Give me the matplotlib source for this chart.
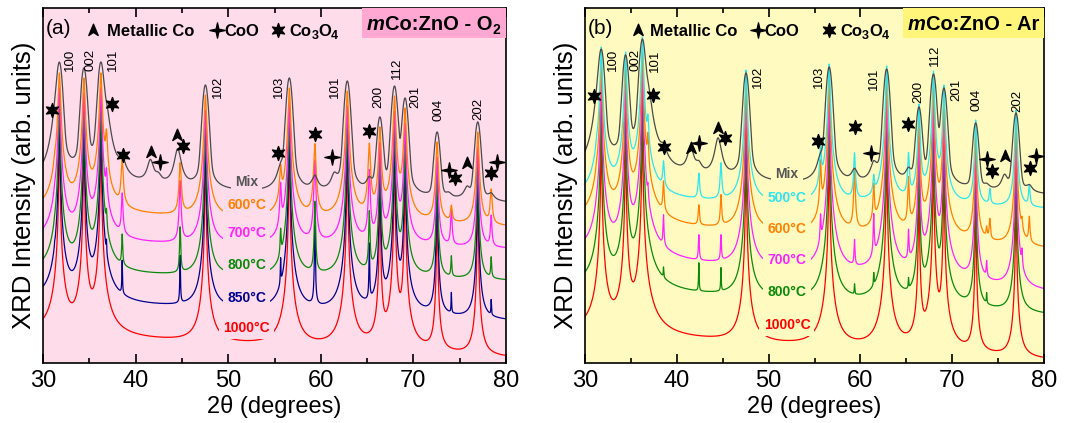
import numpy as np
import matplotlib
matplotlib.use("Agg")
import matplotlib.pyplot as plt
from matplotlib.path import Path
from matplotlib.patches import Rectangle

plt.rcParams['font.family'] = ['Liberation Sans', 'DejaVu Sans']

# ---------------- data ----------------
zno_pos = [31.77, 34.42, 36.25, 47.54, 56.60, 62.86, 66.38, 67.96, 69.10, 72.56, 76.95]
zno_hkl = ["100", "002", "101", "102", "103", "101", "200", "112", "201", "004", "202"]

# panel (a): O2
a_series = ["Mix", "600°C", "700°C", "800°C", "850°C", "1000°C"]
a_colors = ["#4a4a4a", "#ff8000", "#ff22ff", "#0a8a0a", "#000090", "#ff0000"]
a_base_30 = [178, 149, 119, 88, 60, 27]
a_base_80 = [160, 136, 114, 82, 42, 5]
a_width = [0.28, 0.096, 0.073, 0.049, 0.029, 0.028]
a_eta = [0.15, 1.0, 1.0, 1.0, 1.0, 1.0]
a_mix_tops = [300, 295, 300, 278, 285, 282, 246, 277, 265, 231, 241]
a_top_drop = [0, 10, 25, 35, 35, 65]
a_imp_pos = [31.27, 36.85, 38.55, 41.6, 42.45, 44.55, 44.81, 55.66, 59.36, 61.45, 65.24, 73.8, 74.1, 75.8, 78.4]
a_imp_rise = [
    [15, 30, 18, 25, 8, 38, 0, 12, 14, 12, 10, 4, 0, 10, 6],
    [5, 35, 45, 0, 0, 0, 50, 30, 70, 0, 65, 0, 15, 0, 33],
    [4, 25, 40, 0, 0, 0, 60, 40, 80, 0, 65, 0, 35, 0, 30],
    [3, 15, 30, 0, 0, 0, 45, 25, 70, 0, 55, 0, 20, 0, 20],
    [3, 12, 33, 0, 0, 0, 47, 25, 84, 0, 55, 0, 20, 0, 15],
    [0, 0, 0, 0, 0, 0, 0, 0, 0, 0, 0, 0, 0, 0, 0],
]
a_label_y = [181, 158, 130, 98, 65, 35]
a_hkl_x = [32.95, 35.1, 37.6, 48.9, 55.5, 61.55, 66.2, 68.2, 70.2, 72.7, 77.0]
a_hkl_y = [303, 303, 303, 276, 276, 276, 266, 295, 266, 253, 254]
a_co3o4_x = [31.0, 37.4, 38.6, 45.1, 55.4, 59.4, 65.2, 74.5, 78.35]
a_co3o4_y = [253, 259, 208, 217, 210, 229, 232, 185, 190]
a_co_x = [41.65, 44.46, 75.8]
a_co_y = [211, 228, 200]
a_coo_x = [42.65, 61.2, 73.85, 79.0]
a_coo_y = [201, 206, 193, 201]

# panel (b): Ar
b_series = ["Mix", "500°C", "600°C", "700°C", "800°C", "1000°C"]
b_colors = ["#4a4a4a", "#2ee6ee", "#ff8000", "#ff22ff", "#0a8a0a", "#ff0000"]
b_base_30 = [186, 162, 139, 106, 73, 28]
b_base_80 = [168, 154, 114, 71, 48, 3]
b_width = [0.28, 0.08, 0.066, 0.047, 0.03, 0.023]
b_eta = [0.15, 1.0, 1.0, 1.0, 1.0, 1.0]
b_mix_tops = [313, 308, 323, 290, 296, 294, 256, 289, 275, 240, 250]
b_top_drop = [0, -3, 10, 25, 35, 65]
b_imp_pos = [31.27, 36.5, 36.85, 38.55, 41.5, 42.4, 44.5, 44.81, 55.66, 59.36, 61.45, 65.24, 73.75, 74.1, 75.7, 77.6, 78.4]
b_imp_rise = [
    [15, 0, 30, 15, 28, 10, 40, 0, 12, 12, 14, 10, 4, 0, 14, 0, 6],
    [5, 0, 25, 25, 0, 25, 0, 35, 35, 45, 16, 40, 0, 15, 0, 0, 20],
    [4, 0, 30, 30, 0, 20, 0, 30, 45, 60, 35, 45, 10, 20, 0, 10, 25],
    [3, 8, 12, 30, 0, 25, 0, 25, 25, 25, 40, 28, 15, 0, 0, 15, 0],
    [0, 8, 0, 10, 0, 28, 0, 23, 0, 10, 12, 10, 10, 0, 0, 0, 0],
    [0, 0, 0, 0, 0, 0, 0, 0, 0, 0, 0, 0, 0, 0, 0, 0, 0],
]
b_label_y = [189, 165, 134, 103, 71, 38]
b_hkl_x = [33.0, 35.45, 37.6, 48.85, 55.5, 61.5, 66.3, 68.1, 70.4, 72.7, 77.1]
b_hkl_y = [303, 303, 302, 286, 286, 284, 271, 308, 273, 263, 262]
b_co3o4_x = [31.0, 37.4, 38.6, 45.3, 55.35, 59.4, 65.2, 74.35, 78.5]
b_co3o4_y = [267, 268, 216, 225, 222, 236, 239, 192, 195]
b_co_x = [41.5, 44.45, 75.7]
b_co_y = [215, 235, 207]
b_coo_x = [42.45, 61.15, 73.75, 79.1]
b_coo_y = [220, 210, 204, 207]

S_DECADE = 60.0  # display units per decade (log intensity)
x = np.linspace(30, 80, 10001)


def shape(xx, p, w, eta):
    d2 = (np.asarray(xx) - p) ** 2
    return eta * w * w / (d2 + w * w) + (1 - eta) * np.exp(-np.log(2) * d2 / (w * w))


def make_curve(b30, b80, w, eta, tops, imp_pos, imp_rise, imp_w):
    def base(xx):
        return b30 + (b80 - b30) * (np.asarray(xx) - 30.0) / 50.0
    P = np.array(zno_pos)
    T = np.array(tops, dtype=float)
    target = 10 ** ((T - base(P)) / S_DECADE) - 1
    M = shape(P[:, None], P[None, :], w, eta)
    A = np.clip(np.linalg.solve(M, target), 0, None)
    inten = np.ones_like(x)
    for p, a in zip(P, A):
        inten += a * shape(x, p, w, eta)
    for p, r in zip(imp_pos, imp_rise):
        if r <= 0:
            continue
        loc = 1 + sum(a * shape(p, pp, w, eta) for pp, a in zip(P, A))
        inten += loc * (10 ** (r / S_DECADE) - 1) * shape(x, p, imp_w, 1.0)
    return base(x) + S_DECADE * np.log10(inten)


def star_path(n, inner):
    ang = np.pi / 2 + np.arange(2 * n) * np.pi / n
    rad = np.where(np.arange(2 * n) % 2 == 0, 1.0, inner)
    verts = list(zip(rad * np.cos(ang), rad * np.sin(ang)))
    verts.append(verts[0])
    codes = [Path.MOVETO] + [Path.LINETO] * (2 * n - 1) + [Path.CLOSEPOLY]
    return Path(verts, codes)


co_marker = Path([(0, 1), (0.75, -0.8), (0, -0.3), (-0.75, -0.8), (0, 1)],
                 [Path.MOVETO, Path.LINETO, Path.LINETO, Path.LINETO, Path.CLOSEPOLY])
coo_marker = star_path(4, 0.25)
co3o4_marker = star_path(6, 0.45)


def chain(ax, xx, yy, parts, transform):
    prev = None
    for (s, fs, wt, st, dy) in parts:
        if prev is None:
            prev = ax.text(xx, yy, s, transform=transform, fontsize=fs, weight=wt,
                           style=st, ha='left', va='baseline', zorder=6)
        else:
            prev = ax.annotate(s, xy=(1, 0), xycoords=prev, xytext=(0, dy),
                               textcoords='offset points', fontsize=fs, weight=wt,
                               style=st, ha='left', va='bottom', zorder=6)
    return prev


fig = plt.figure(figsize=(10.85, 4.23), dpi=100)
axA = fig.add_axes([43 / 1085, 60 / 423, 463 / 1085, 355 / 423])
axB = fig.add_axes([585 / 1085, 60 / 423, 459 / 1085, 355 / 423])

panels = [
    (axA, "(a)", a_series, a_colors, a_base_30, a_base_80, a_width, a_eta, a_mix_tops, a_top_drop,
     a_imp_pos, a_imp_rise, a_label_y, a_hkl_x, a_hkl_y,
     a_co3o4_x, a_co3o4_y, a_co_x, a_co_y, a_coo_x, a_coo_y,
     "#ffdcea", "#ffa8d4", "O", "2", (35.4, 36.9, 48.8, 49.6, 55.4, 56.6), 0.700),
    (axB, "(b)", b_series, b_colors, b_base_30, b_base_80, b_width, b_eta, b_mix_tops, b_top_drop,
     b_imp_pos, b_imp_rise, b_label_y, b_hkl_x, b_hkl_y,
     b_co3o4_x, b_co3o4_y, b_co_x, b_co_y, b_coo_x, b_coo_y,
     "#fffbc0", "#fff57a", "Ar", "", (35.8, 37.1, 48.8, 49.5, 56.6, 57.8), 0.704),
]

for (ax, tag, names, cols, b30s, b80s, widths, etas, mixtops, drops, ipos, irises, laby,
     hx, hy, c3x, c3y, cx, cy, cox, coy, bg, boxc, gas, gsub, legx, tx0) in panels:
    ax.set_facecolor(bg)
    n = len(names)
    for i in reversed(range(n)):
        tops = [t - drops[i] for t in mixtops]
        imp_w = 0.35 if i == 0 else widths[i]
        y = make_curve(b30s[i], b80s[i], widths[i], etas[i], tops, ipos, irises[i], imp_w)
        ax.plot(x, y, color=cols[i], lw=0.9, zorder=2 + (n - i) * 0.01)
    for i in range(n):
        tc = "#555555" if i == 0 else cols[i]
        ax.text(52.0, laby[i], names[i], color=tc, fontsize=10, weight='bold',
                ha='center', va='center', zorder=4,
                bbox=dict(boxstyle='square,pad=0.3', fc=bg, ec='none'))
    for hxx, hyy, lab in zip(hx, hy, zno_hkl):
        ax.text(hxx, hyy, lab, rotation=90, fontsize=9.5, ha='center', va='center', zorder=5)
    ax.plot(c3x, c3y, ls='none', marker=co3o4_marker, ms=10, color='k', zorder=5)
    ax.plot(cx, cy, ls='none', marker=co_marker, ms=9, color='k', zorder=5)
    ax.plot(cox, coy, ls='none', marker=coo_marker, ms=11, color='k', zorder=5)

    # legend row
    ax.text(30.3, 329, tag, fontsize=15, ha='left', va='baseline', zorder=6)
    ax.plot([legx[0]], [333], ls='none', marker=co_marker, ms=9, color='k', zorder=6)
    ax.text(legx[1], 327, "Metallic Co", fontsize=12, weight='bold', ha='left', va='baseline', zorder=6)
    ax.plot([legx[2]], [333], ls='none', marker=coo_marker, ms=11, color='k', zorder=6)
    ax.text(legx[3], 327, "CoO", fontsize=12, weight='bold', ha='left', va='baseline', zorder=6)
    ax.plot([legx[4]], [333], ls='none', marker=co3o4_marker, ms=10, color='k', zorder=6)
    chain(ax, legx[5], 327, [("Co", 12, 'bold', 'normal', 0), ("3", 9, 'bold', 'normal', -2),
                             ("O", 12, 'bold', 'normal', 2), ("4", 9, 'bold', 'normal', -2)],
          ax.transData)

    # title box
    ax.add_patch(Rectangle((tx0 - 0.011, 0.915), 1.0 - (tx0 - 0.011), 0.085,
                           transform=ax.transAxes, fc=boxc, ec='none', zorder=5))
    parts = [("m", 14.5, 'bold', 'italic', 0), ("Co:ZnO - " + gas, 14.5, 'bold', 'normal', 0)]
    if gsub:
        parts.append((gsub, 10, 'bold', 'normal', -2))
    chain(ax, tx0, 0.938, parts, ax.transAxes)

    ax.set_xlim(30, 80)
    ax.set_ylim(0, 355)
    ax.set_yticks([])
    ax.set_xticks([30, 40, 50, 60, 70, 80])
    ax.set_xticks([35, 45, 55, 65, 75], minor=True)
    ax.tick_params(which='both', direction='in', top=True, bottom=True, width=1.2)
    ax.tick_params(which='major', length=6.5, labelsize=17, pad=5)
    ax.tick_params(which='minor', length=3.5)
    for sp in ax.spines.values():
        sp.set_linewidth(1.2)
    ax.set_xlabel("2θ (degrees)", fontsize=17, labelpad=2)
    ax.set_ylabel("XRD Intensity (arb. units)", fontsize=18.5, labelpad=5)

fig.savefig("out.png", dpi=100)
